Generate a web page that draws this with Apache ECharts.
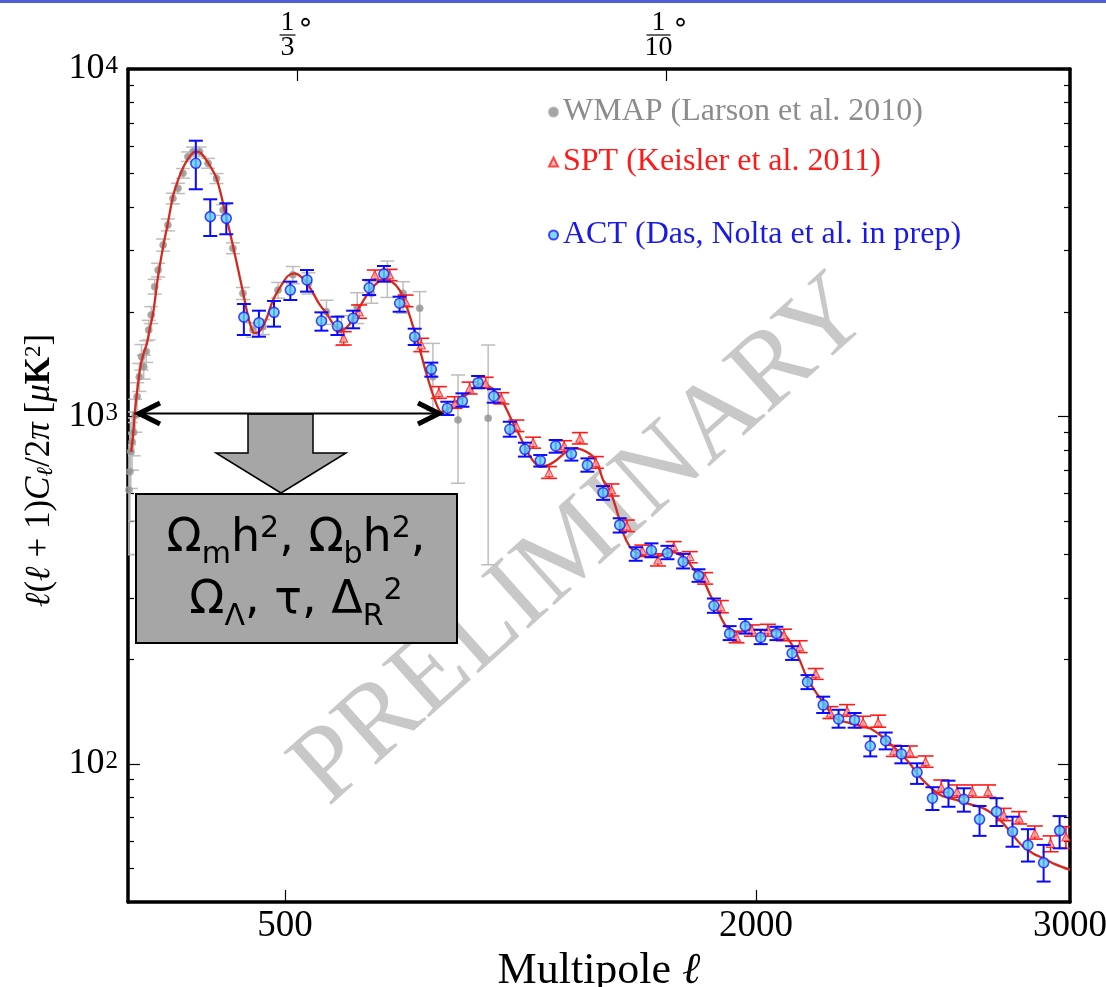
<!DOCTYPE html>
<html>
<head>
<meta charset="utf-8">
<script src="https://cdn.jsdelivr.net/npm/echarts@6/dist/echarts.min.js"></script>
<style>html,body{margin:0;padding:0;background:#fff}#c{width:1106px;height:987px}</style>
</head>
<body>
<div id="c"></div>
<script>
// ---------------- data ----------------
const theoryL = [10,16,21,30,40,50,60,70,80,95,112,127,143,160,180,200,215,230,256,282,310,335,367,385,403,420,440,462,490,510,531,550,570,590,610,632,655,680,705,738,770,800,813,840,865,885,908,930,950,975,998,1020,1050,1083,1110,1131,1160,1184,1205,1227,1250,1269,1290,1311,1340,1365,1400,1428,1455,1481,1500,1513,1534,1556,1577,1598,1620,1650,1672,1700,1736,1760,1779,1805,1832,1855,1874,1890,1906,1930,1948,1980,2012,2045,2075,2100,2118,2139,2161,2192,2220,2245,2270,2298,2330,2362,2395,2426,2460,2489,2520,2553,2590,2638,2680,2723,2760,2787,2820,2850,2885,2914,2950,3000];
const theoryD = [790,880,1010,1200,1400,1520,1620,1800,1981,2500,3080,3600,4290,4800,5300,5650,5780,5750,5353,4840,3850,3080,2260,1900,1734,1760,1900,2163,2400,2540,2582,2530,2420,2260,2100,1981,1840,1773,1840,2068,2300,2450,2470,2440,2310,2100,1812,1550,1331,1130,1031,1050,1110,1165,1230,1245,1200,1140,1050,955,870,800,745,716,725,749,795,809,795,766,710,656,614,538,461,422,405,395,394,398,408,398,386,360,338,305,283,262,248,241,240,243,243,242,240,230,217,199,178,160,148,137,133,131,129,126.5,121,114.5,107,100.3,92,85.9,81,78.7,76.5,74.5,71,67.4,62,57.8,55,53.5,51.5,49.5];

const wmapL  = [3,6,9,13,18,23,29,36,43,50,58,66,74,85,96,112,127,143,159,175,191,207,228,255,282,303,334,366,398,430,478,525,575,632,680,730,775,826,876,929,971,1051,1147];
const wmapD  = [614,693,792,845,900,1009,1140,1300,1486,1390,1537,1773,1959,2362,2637,3115,3556,4240,4535,5010,5593,5780,5780,5353,4840,3928,3047,2260,1773,1812,2310,2555,2420,2001,1773,2060,2260,2500,2260,2048,1300,977,988];
const wmapLo = [400,500,620,700,770,900,1030,1180,1360,1280,1430,1660,1850,2250,2520,2990,3420,4090,4380,4850,5420,5600,5600,5180,4680,3790,2940,2170,1690,1720,2190,2410,2250,1840,1600,1850,2117,2200,1981,1622,1040,642,374];
const wmapHi = [830,890,960,990,1030,1120,1250,1420,1610,1500,1650,1890,2070,2480,2760,3240,3700,4390,4690,5170,5770,5960,5960,5530,5000,4070,3160,2350,1860,1900,2430,2700,2590,2160,1950,2270,2442,2800,2442,2286,1622,1316,1605];

const sptL  = [687,736,786,833,884,934,990,1040,1088,1139,1189,1237,1290,1341,1389,1439,1490,1540,1589,1638,1688,1738,1789,1838,1888,1938,1987,2038,2089,2139,2190,2237,2290,2341,2389,2439,2490,2540,2590,2640,2689,2739,2789,2838,2888,2938,2987];
const sptD  = [1679,2001,2555,2555,2138,1605,1170,1091,1205,1244,1127,938,841,689,822,865,736,614,483,411,386,422,395,342,283,231,243,243,235,217,182,140,142,131.5,131.5,109,108,101.4,85.6,83.2,83.2,83.2,71.2,69.7,63.1,59.0,61.6];
const sptLo = [1605,1916,2470,2458,2069,1536,1127,1055,1160,1205,1086,904,810,663,791,833,709,590,466,395,371,405,379,329,272,223,233,233,226,209,175,135,137,127,127.4,105,104.4,97.7,82.6,80.1,80.1,80.1,68.6,67.1,60.7,55.8,57.1];
const sptHi = [1753,2093,2638,2650,2235,1678,1218,1139,1255,1296,1170,976,871,717,851,898,766,639,503,426,402,436,408,355,295,240,251,252,244,226,188,146,148,137,138,113,112.5,105.3,89.8,86.9,86.9,86.9,74.4,72.8,66.2,62.0,65.9];

const actL  = [216,262,313,369,417,465,517,570,616,667,717,768,815,865,913,966,1017,1065,1115,1165,1216,1264,1313,1362,1412,1463,1513,1566,1617,1667,1718,1768,1817,1866,1916,1966,2015,2065,2115,2164,2214,2263,2314,2364,2413,2463,2513,2562,2613,2662,2712,2766,2817,2866,2916,2967];
const actD  = [5353,3758,3716,1931,1860,1993,2310,2470,1882,1820,1916,2346,2570,2117,1696,1366,1055,1107,1250,1143,918,804,746,822,780,724,603,487,402,411,404,382,348,285,237,249,231,237,208,172,147.7,134.6,133.7,112.5,116.5,106.7,94.5,79.6,82.6,79,69.2,72.8,63.8,58.3,51.9,64.2];
const actLo = [4506,3306,3344,1715,1696,1813,2163,2286,1765,1715,1793,2235,2442,2001,1605,1301,1009,1066,1205,1095,874,766,717,786,746,693,575,463,384,393,388,365,334,272,227,237,221,227,199,164,140,127,127,105,110,100.3,87.5,73.6,75.2,72.8,62.0,66.2,57.7,52.3,45.8,57.1];
const actHi = [6217,4216,4106,2106,2015,2149,2442,2638,1993,1936,2015,2470,2710,2211,1788,1428,1102,1165,1307,1197,965,840,774,855,810,757,630,509,420,431,424,402,363,299,249,261,243,248,218,180,156,143,140,120,123,112.5,100.3,85.6,89.4,85.0,75.6,79.6,70.4,64.8,58.4,70.7];

const xTickLabels = [500, 2000, 3000];
const xTickMarks = [500, 2000];
const yMajor = [100, 1000, 10000];
const yMinor = [50,60,70,80,90,200,300,400,500,600,700,800,900,2000,3000,4000,5000,6000,7000,8000,9000];
const topTicks = [540, 1715];
const topNum = ['1', '1'];
const topDen = ['3', '10'];

const names = ['WMAP (Larson et al. 2010)', 'SPT (Keisler et al. 2011)', 'ACT (Das, Nolta et al. in prep)'];

// ---------------- chart ----------------
const SERIF = '"Liberation Serif", "DejaVu Serif", serif';
const chart = echarts.init(document.getElementById('c'), null, {renderer: 'canvas'});

function errBars(L, lo, hi, color, half, width, z) {
  return {
    type: 'custom', xAxisIndex: 0, yAxisIndex: 0, z: z, silent: true, clip: true,
    data: L.map((l, i) => [l, lo[i], hi[i]]),
    encode: {x: 0, y: [1, 2]},
    renderItem: function (params, api) {
      const x = api.value(0);
      const a = api.coord([x, api.value(1)]);
      const b = api.coord([x, api.value(2)]);
      const st = {stroke: color, lineWidth: width};
      return {type: 'group', children: [
        {type: 'line', shape: {x1: a[0], y1: a[1], x2: b[0], y2: b[1]}, style: st},
        {type: 'line', shape: {x1: a[0] - half, y1: a[1], x2: a[0] + half, y2: a[1]}, style: st},
        {type: 'line', shape: {x1: b[0] - half, y1: b[1], x2: b[0] + half, y2: b[1]}, style: st}
      ]};
    }
  };
}

const frame = {show: true, lineStyle: {color: '#000', width: 3.5}};
function yAx(pos, ticks, len, labels) {
  const ax = {
    type: 'log', logBase: 10, min: 40, max: 10000, position: pos,
    axisLine: ticks === yMajor ? frame : {show: false},
    axisTick: {show: true, inside: true, length: len, customValues: ticks, lineStyle: {color: '#000', width: 1.2}},
    axisLabel: {show: false},
    splitLine: {show: false}, minorTick: {show: false}
  };
  if (labels) {
    ax.axisLabel = {
      show: true, customValues: yMajor, margin: 10,
      formatter: v => '{b|10}{s|' + Math.round(Math.log10(v)) + '}',
      rich: {
        b: {fontFamily: SERIF, fontSize: 36, color: '#000', lineHeight: 36, padding: [12, 0, 0, 0], verticalAlign: 'bottom'},
        s: {fontFamily: SERIF, fontSize: 25, color: '#000', lineHeight: 25, padding: [3, 0, 0, 1], verticalAlign: 'top'}
      }
    };
    ax.name = '{i|ℓ}({i|ℓ} + 1){i|C}{sub|ℓ}/2{i|π} [{i|μ}{k|K}{sup|2}]';
    ax.nameLocation = 'middle';
    ax.nameRotate = 90;
    ax.nameGap = 70;
    ax.nameTextStyle = {
      fontFamily: SERIF, fontSize: 35, color: '#000', padding: [0, 0, 0, 30],
      rich: {
        i: {fontFamily: SERIF, fontSize: 35, fontStyle: 'italic', color: '#000'},
        k: {fontFamily: SERIF, fontSize: 35, fontWeight: 'bold', color: '#000'},
        sub: {fontFamily: SERIF, fontSize: 23, fontStyle: 'italic', color: '#000', verticalAlign: 'bottom', lineHeight: 16},
        sup: {fontFamily: SERIF, fontSize: 23, color: '#000', verticalAlign: 'top', lineHeight: 22}
      }
    };
  }
  return ax;
}

const option = {
  animation: false,
  backgroundColor: '#fff',
  grid: {left: 128, right: 36, top: 69, bottom: 85, containLabel: false, outerBoundsMode: 'none'},
  legend: [0, 1, 2].map(i => ({
    data: [names[i]], left: 548, top: [96, 146, 219][i],
    itemWidth: 9, itemHeight: 9, padding: 0, selectedMode: false,
    textStyle: {fontFamily: SERIF, fontSize: 32, color: ['#8c8c8c', '#ff1a1a', '#1a1ae8'][i]}
  })),
  xAxis: [
    {
      type: 'value', position: 'bottom', min: 0, max: 3000,
      axisLine: frame,
      axisTick: {show: true, inside: true, length: 12, customValues: xTickMarks, lineStyle: {color: '#000', width: 1.2}},
      axisLabel: {customValues: xTickLabels, formatter: v => String(v), fontFamily: SERIF, fontSize: 37, color: '#000', margin: 6},
      splitLine: {show: false},
      name: 'Multipole {i|ℓ}', nameLocation: 'middle', nameGap: 42,
      nameTextStyle: {fontFamily: SERIF, fontSize: 44, color: '#000',
        rich: {i: {fontFamily: SERIF, fontSize: 44, fontStyle: 'italic', color: '#000'}}}
    },
    {
      type: 'value', position: 'top', min: 0, max: 3000,
      axisLine: frame,
      axisTick: {show: true, inside: true, length: 12, customValues: topTicks, lineStyle: {color: '#000', width: 1.2}},
      axisLabel: {show: false}, splitLine: {show: false}
    }
  ],
  yAxis: [
    yAx('left', yMajor, 12, true),
    yAx('left', yMinor, 6, false),
    yAx('right', yMajor, 12, false),
    yAx('right', yMinor, 6, false)
  ],
  series: [
    errBars(wmapL, wmapLo, wmapHi, '#bdbdbd', 7, 1.5, 2),
    {
      name: names[0], type: 'scatter', xAxisIndex: 0, yAxisIndex: 0, z: 3,
      data: wmapL.map((l, i) => [l, wmapD[i]]),
      symbol: 'circle', symbolSize: 7,
      itemStyle: {color: '#8e8e8e', borderColor: '#aaaaaa', borderWidth: 1}
    },
    {
      type: 'line', xAxisIndex: 0, yAxisIndex: 0, z: 4, showSymbol: false, smooth: 0.3, silent: true,
      data: theoryL.map((l, i) => [l, theoryD[i]]),
      lineStyle: {color: '#d42a1e', width: 2.3}
    },
    errBars(sptL, sptLo, sptHi, '#ff1a1a', 8, 1.6, 5),
    {
      name: names[1], type: 'scatter', xAxisIndex: 0, yAxisIndex: 0, z: 6,
      data: sptL.map((l, i) => [l, sptD[i]]),
      symbol: 'triangle', symbolSize: 8,
      itemStyle: {color: '#ffaaaa', borderColor: '#ff2020', borderWidth: 1.2}
    },
    errBars(actL, actLo, actHi, '#0a0aff', 7, 2, 7),
    {
      name: names[2], type: 'scatter', xAxisIndex: 0, yAxisIndex: 0, z: 8,
      data: actL.map((l, i) => [l, actD[i]]),
      symbol: 'circle', symbolSize: 10,
      itemStyle: {color: '#5fd0f6', borderColor: '#1a1aff', borderWidth: 1.6}
    }
  ]
};
chart.setOption(option);

// ---------------- overlays ----------------
const g = [];
g.push({type: 'rect', shape: {x: 0, y: 0, width: 1106, height: 3}, style: {fill: '#5060d6'}, z: 50});
// top-axis angular labels
topTicks.forEach((v, i) => {
  const px = chart.convertToPixel({xAxisIndex: 1}, v);
  const cx = px - (i === 0 ? 10 : 8);
  const hw = i === 0 ? 8 : 12;
  g.push({type: 'text', x: cx, y: 23, style: {text: topNum[i], fontFamily: SERIF, fontSize: 28, fill: '#000', align: 'center', verticalAlign: 'middle'}, z: 50});
  g.push({type: 'line', shape: {x1: cx - hw, y1: 35, x2: cx + hw, y2: 35}, style: {stroke: '#000', lineWidth: 1.2}, z: 50});
  g.push({type: 'text', x: cx, y: 48, style: {text: topDen[i], fontFamily: SERIF, fontSize: 28, fill: '#000', align: 'center', verticalAlign: 'middle'}, z: 50});
  g.push({type: 'text', x: cx + hw + 10, y: 24, style: {text: '∘', fontFamily: '"DejaVu Sans", sans-serif', fontSize: 28, fill: '#000', align: 'center', verticalAlign: 'middle'}, z: 50});
});
// watermark
g.push({type: 'text', x: 582, y: 542, rotation: 0.73, z: 1, silent: true,
  style: {text: 'PRELIMINARY', fontFamily: SERIF, fontSize: 108, fill: '#c8c8c8', align: 'center', verticalAlign: 'middle'}});
// block arrow
g.push({type: 'polygon', z: 60, shape: {points: [[248,414],[313,414],[313,453],[346,453],[281,493],[216,453],[248,453]]},
  style: {fill: '#a6a6a6', stroke: '#000', lineWidth: 1.5}});
// double arrow
g.push({type: 'line', z: 61, shape: {x1: 138, y1: 413.5, x2: 440, y2: 413.5}, style: {stroke: '#000', lineWidth: 2}});
g.push({type: 'polyline', z: 61, shape: {points: [[160,403],[139,413.5],[160,424]]}, style: {stroke: '#000', lineWidth: 5, fill: null, lineJoin: 'miter'}});
g.push({type: 'polyline', z: 61, shape: {points: [[418,403],[439,413.5],[418,424]]}, style: {stroke: '#000', lineWidth: 5, fill: null, lineJoin: 'miter'}});
// parameter box
g.push({type: 'rect', z: 60, shape: {x: 136, y: 494, width: 321, height: 149}, style: {fill: '#a6a6a6', stroke: '#000', lineWidth: 2}});
const SANS = '"DejaVu Sans", "Noto Sans", sans-serif';
g.push({type: 'text', z: 62, x: 296, y: 570,
  style: {
    text: 'Ω{sub|m}h{sup|2}, Ω{sub|b}h{sup|2},\nΩ{sub|Λ}, τ, Δ{sub|R}{sup|2}',
    fontFamily: SANS, fontSize: 46, fill: '#000', align: 'center', verticalAlign: 'middle', lineHeight: 62,
    rich: {
      sub: {fontFamily: SANS, fontSize: 30, fill: '#000', lineHeight: 22, verticalAlign: 'bottom'},
      sup: {fontFamily: SANS, fontSize: 30, fill: '#000', lineHeight: 30, padding: [6, 0, 0, 0], verticalAlign: 'top'}
    }
  }});
chart.setOption({graphic: {elements: g}});
</script>
</body>
</html>
